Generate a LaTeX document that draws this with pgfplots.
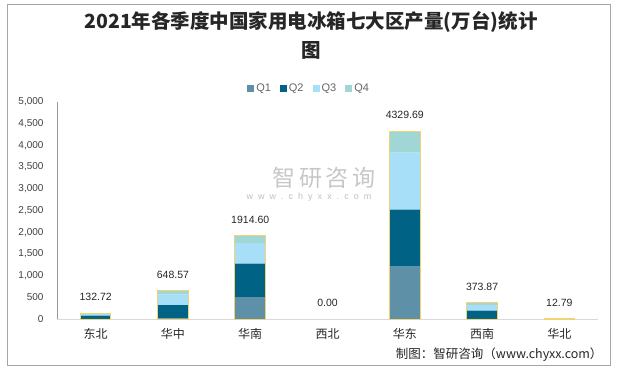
\documentclass[border=0pt]{standalone}
\usepackage{pgfplots}
\pgfplotsset{compat=1.18}
\usepackage{fontspec}
\setmainfont{Liberation Sans}
\newfontfamily\cjk{Noto Sans CJK SC}
\definecolor{cQ1}{HTML}{5E90A8}
\definecolor{cQ2}{HTML}{006385}
\definecolor{cQ3}{HTML}{A6DFF7}
\definecolor{cQ4}{HTML}{A0D6D3}
\definecolor{cOut}{HTML}{F3D175}
\definecolor{tickc}{HTML}{404040}
\begin{document}
\begin{tikzpicture}[x=1pt,y=1pt]
\path[use as bounding box] (0,0) rectangle (617,370);
\draw[gray!70, line width=0.8pt] (7.5,5) rectangle (610.5,366);
\node[font=\cjk\bfseries\fontsize{19.5}{22}\selectfont, text=black!85] at (311,348) {2021年各季度中国家用电冰箱七大区产量(万台)统计};
\node[font=\cjk\bfseries\fontsize{19.5}{22}\selectfont, text=black!85] at (311,320) {图};
% watermark
\node[font=\cjk\fontsize{23}{25}\selectfont, text=black!22] at (324,192) {智\,研\,咨\,询};
\node[font=\fontsize{9}{10}\selectfont, text=black!25] at (309,173) {w\ \ w\ \ w\ \ .\ \ c\ \ h\ \ y\ \ x\ \ x\ \ .\ \ c\ \ o\ \ m};
\node[anchor=east, font=\cjk\fontsize{12.5}{14}\selectfont, text=black!85] at (606,15) {制图：智研咨询（www.chyxx.com）};

\begin{axis}[
  at={(57pt,51pt)}, anchor=south west,
  width=541pt, height=217pt, scale only axis,
  xmin=-0.5, xmax=6.5, ymin=0, ymax=5000,
  ybar stacked, bar width=30.7pt,
  xtick={0,1,2,3,4,5,6},
  xticklabels={东北,华中,华南,西北,华东,西南,华北},
  ytick={0,500,1000,1500,2000,2500,3000,3500,4000,4500,5000},
  major tick length=0pt,
  axis x line*=bottom, axis y line*=left,
  x axis line style={-, draw=black!15, line width=0.8pt},
  y axis line style={-, draw=black!40, line width=0.8pt},
  /pgf/number format/.cd, 1000 sep={,}, assume math mode=true,
  /pgfplots/.cd,
  yticklabel style={font=\fontsize{10}{12}\selectfont, text=tickc, xshift=-10pt},
  xticklabel style={font=\cjk\fontsize{12}{14}\selectfont, text=black!85, yshift=-6pt},
  legend style={draw=none, at={(0.466,1.0645)}, anchor=center, legend columns=4,
    font=\fontsize{11}{12}\selectfont, text=black!60,
    /tikz/every even column/.append style={column sep=7pt}},
  legend image code/.code={\fill[#1] (0pt,-3.5pt) rectangle (7pt,3.5pt);},
]
\addplot[fill=cQ1, draw=none] coordinates {(0,5) (1,15) (2,507) (3,0) (4,1205) (5,5) (6,12.79)};
\addplot[fill=cQ2, draw=none] coordinates {(0,70) (1,305) (2,767) (3,0) (4,1314) (5,186) (6,0)};
\addplot[fill=cQ3, draw=none] coordinates {(0,40) (1,240) (2,477) (3,0) (4,1313) (5,131) (6,0)};
\addplot[fill=cQ4, draw=none] coordinates {(0,17.72) (1,88.57) (2,163.6) (3,0) (4,497.69) (5,51.87) (6,0)};
\legend{Q1,Q2,Q3,Q4}
\end{axis}

\begin{axis}[
  at={(57pt,51pt)}, anchor=south west,
  width=541pt, height=217pt, scale only axis,
  xmin=-0.5, xmax=6.5, ymin=0, ymax=5000,
  hide axis,
]
\addplot[ybar, bar width=30.7pt, bar shift=0pt, draw=cOut, fill=none, line width=1pt]
  coordinates {(0,132.72) (1,648.57) (2,1914.60) (4,4329.69) (5,373.87) (6,12.79)};
\addplot[draw=none, mark=none, nodes near coords, point meta=explicit symbolic,
  every node near coord/.append style={anchor=center, yshift=16pt, font=\fontsize{10.5}{12}\selectfont, text=black!85}]
  coordinates {(0,132.72)[132.72] (1,648.57)[648.57] (2,1914.60)[1914.60] (3,0)[0.00] (4,4329.69)[4329.69] (5,373.87)[373.87] (6,12.79)[12.79]};
\end{axis}
\end{tikzpicture}
\end{document}
